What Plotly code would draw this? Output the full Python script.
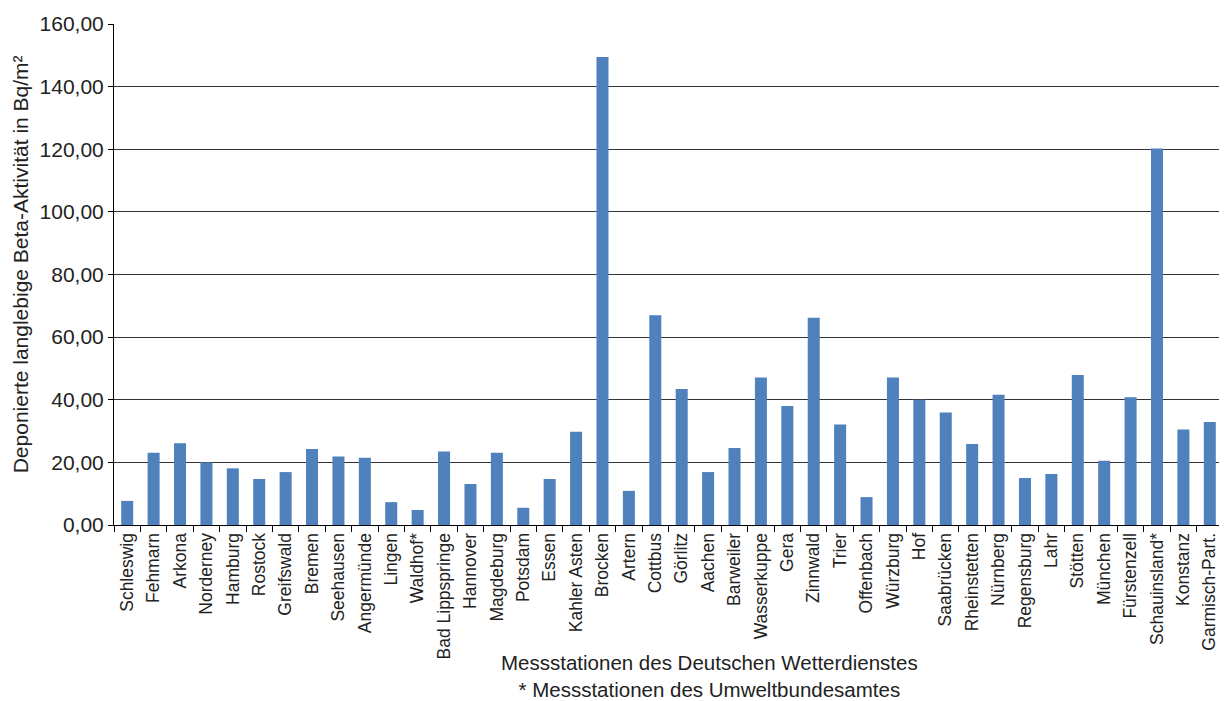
import plotly.graph_objects as go

stations = [
    "Schleswig", "Fehmarn", "Arkona", "Norderney", "Hamburg", "Rostock",
    "Greifswald", "Bremen", "Seehausen", "Angermünde", "Lingen", "Waldhof*",
    "Bad Lippspringe", "Hannover", "Magdeburg", "Potsdam", "Essen",
    "Kahler Asten", "Brocken", "Artern", "Cottbus", "Görlitz", "Aachen",
    "Barweiler", "Wasserkuppe", "Gera", "Zinnwald", "Trier", "Offenbach",
    "Würzburg", "Hof", "Saabrücken", "Rheinstetten", "Nürnberg", "Regensburg",
    "Lahr", "Stötten", "München", "Fürstenzell", "Schauinsland*", "Konstanz",
    "Garmisch-Part.",
]
beta_activity = [
    7.7, 23.1, 26.1, 20.0, 18.1, 14.7,
    16.9, 24.3, 21.9, 21.5, 7.3, 4.8,
    23.5, 13.1, 23.1, 5.5, 14.7,
    29.8, 149.5, 10.9, 67.0, 43.4, 16.9,
    24.6, 47.1, 38.0, 66.2, 32.1, 8.9,
    47.1, 40.0, 35.9, 25.9, 41.6, 15.0,
    16.3, 47.9, 20.5, 40.8, 120.2, 30.5,
    32.9,
]
y_ticks = [0, 20, 40, 60, 80, 100, 120, 140, 160]

FONT = "Liberation Sans, Arial, sans-serif"

fig = go.Figure(go.Bar(
    x=stations, y=beta_activity,
    marker=dict(color="#4F81BD", line=dict(width=0)),
))

# page body has an 8px margin, so the figure is sized/offset to compensate
fig.update_layout(
    width=1219, height=693,
    margin=dict(l=106, r=4, t=12, b=176),
    paper_bgcolor="white", plot_bgcolor="white",
    font=dict(family=FONT, color="#222"),
    separators=", ",
    bargap=0.545,
    showlegend=False,
)

fig.update_xaxes(
    tickangle=-90, tickfont=dict(size=17.5, color="#222"),
    showline=True, linecolor="black", linewidth=1,
    ticks="outside", tickson="boundaries", ticklen=6, tickcolor="black",
    showgrid=False,
)
fig.update_yaxes(
    range=[0, 160], tickvals=y_ticks, tickformat=".2f",
    tickfont=dict(size=21, color="#222"),
    showline=True, linecolor="black", linewidth=1,
    ticks="outside", ticklen=5, tickcolor="black",
    showgrid=True, gridcolor="#333", gridwidth=1,
    zeroline=False,
)

# right frame line
fig.add_shape(type="line", xref="paper", yref="paper", x0=1, x1=1, y0=0, y1=1,
              line=dict(color="#9a9a9a", width=1))

fig.add_annotation(
    text="Deponierte langlebige Beta-Aktivität in Bq/m²",
    xref="paper", yref="paper", x=-0.084, y=0.52, textangle=-90,
    showarrow=False, font=dict(size=21, color="#222"),
    xanchor="center", yanchor="middle",
)
fig.add_annotation(
    text="Messstationen des Deutschen Wetterdienstes<br>* Messstationen des Umweltbundesamtes",
    xref="paper", yref="paper", x=0.537, y=-0.248,
    showarrow=False, font=dict(size=20.5, color="#222"),
    xanchor="center", yanchor="top",
)

fig.write_html("out.html")
